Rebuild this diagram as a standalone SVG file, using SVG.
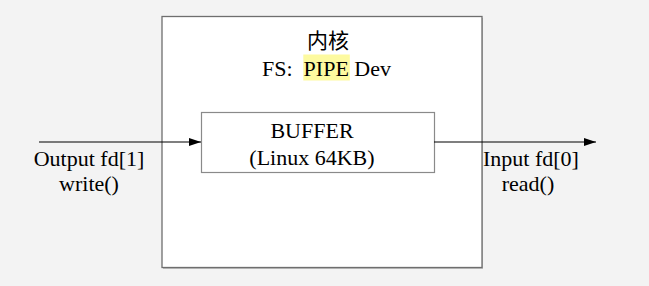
<svg xmlns="http://www.w3.org/2000/svg" width="649" height="286" viewBox="0 0 649 286">
<style>
text{font-family:"Liberation Serif","Noto Sans CJK SC",serif;font-size:22px;fill:#000}
.cjk{font-family:"Noto Sans CJK SC","Liberation Serif",serif;font-size:21px}
.conn{stroke:#000;stroke-width:1.2;fill:none}
</style>
<defs>
<marker id="arr" viewBox="0 0 12 8" refX="12" refY="4" markerWidth="12" markerHeight="8" markerUnits="userSpaceOnUse" orient="auto">
<path d="M0,0 L12,4 L0,8 z" fill="#000"/>
</marker>
</defs>
<rect x="0" y="0" width="649" height="286" fill="#f3f3f3"/>
<g id="kernel">
<rect x="163" y="18" width="320" height="251" fill="#8a8a8a" opacity="0.5"/>
<rect x="162" y="16.5" width="320" height="251" fill="#fff" stroke="#6e6e6e" stroke-width="1.3"/>
<text class="cjk" x="328" y="48" text-anchor="middle">内核</text>
<rect x="303.3" y="54.5" width="46.5" height="26" fill="#fdfaa0"/>
<text x="262" y="76">FS:<tspan x="303.6">PIPE Dev</tspan></text>
</g>
<g id="buffer">
<rect x="201.5" y="112.5" width="233" height="60" fill="#fff" stroke="#8a8a8a" stroke-width="1.2"/>
<text x="312" y="138" text-anchor="middle">BUFFER</text>
<text x="312" y="165" text-anchor="middle">(Linux 64KB)</text>
</g>
<g id="connectors">
<line class="conn" x1="39" y1="142" x2="201" y2="142" marker-end="url(#arr)"/>
<line class="conn" x1="434" y1="142" x2="596" y2="142" marker-end="url(#arr)"/>
</g>
<g id="output-label">
<text x="89" y="166" text-anchor="middle">Output fd[1]</text>
<text x="89" y="191" text-anchor="middle">write()</text>
</g>
<g id="input-label">
<text x="531" y="166" text-anchor="middle">Input fd[0]</text>
<text x="528" y="191" text-anchor="middle">read()</text>
</g>
</svg>
